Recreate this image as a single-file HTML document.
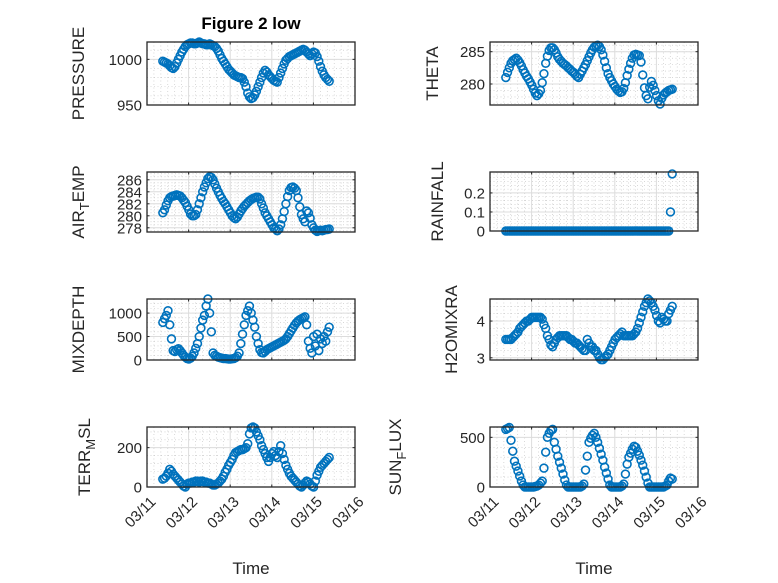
<!DOCTYPE html>
<html><head><meta charset="utf-8"><style>
body{margin:0;background:#fff}
svg{display:block;font-family:"Liberation Sans",sans-serif}
</style></head><body>
<svg id="fig" width="778" height="583" viewBox="0 0 778 583"></svg>
<script>
// Shared categories: hourly samples starting at day 0.38 after 03/11
const startDay = 0.38;
const nPts = 97;
const xTickLabels = ["03/11","03/12","03/13","03/14","03/15","03/16"];

const pressure = [998,997,996,995,993,991,990,
992,996,1000,1004,1008,1011,1014,1016,
1017,1018,1018,1017,1017,1018,1019,1018,1017,1017,1016,1016,1017,1016,1015,1014,
1012,1009,1005,1001,998,995,992,989,987,985,983,982,981,980,
980,979,975,970,963,959,957,958,
961,965,970,975,980,985,988,986,
983,981,979,977,976,975,980,985,
990,995,999,1001,1003,1004,1005,1006,1007,1008,1009,1010,
1011,1010,1008,1006,1004,1006,1008,1007,
1003,998,992,987,983,980,978,976];
const theta = [281,281.8,282.5,283.2,283.6,283.8,284,283.7,283.3,
282.8,282.2,281.7,281.2,280.8,280.3,279.8,279.2,
278.6,278.2,278.5,279,280.2,281.6,283.2,284.3,
285.2,285.6,285.6,285.3,284.8,284.2,283.8,283.5,
283.2,283,282.8,282.5,282.3,282,281.8,281.5,281.2,281,281.5,282,
282.5,283,283.6,284.2,284.8,285.3,285.7,285.9,286,285.8,285.3,284.5,
283.5,282.5,281.6,281,280.5,280,279.6,279.2,278.9,278.7,278.8,279.3,
280.2,281.3,282.3,283.2,284,284.5,284.6,284.5,284.4,283.4,281.4,279.4,
278.2,277.7,279.5,280.4,279.8,279,278.2,277.4,
276.9,277.8,278.3,278.6,278.8,279,279.1,279.2];
const airTemp = [280.5,281,281.8,282.5,283,
283.2,283.3,283.4,283.5,283.4,283.3,
283,282.6,282.2,281.6,281,280.3,280,280,
280.2,281,282,283,
284,284.8,285.5,286.2,286.5,286.4,
286,285.3,284.6,284,283.4,282.9,282.4,282,
281.5,281,280.5,280,279.7,279.5,279.8,280.3,
280.8,281.2,281.6,281.9,282.2,282.5,282.7,282.9,283,283.1,283.1,282.8,
282,281.3,280.5,280,279.5,279,278.5,278,277.8,277.5,277.8,278.5,
279.5,280.7,282,283.2,284.2,284.7,284.8,284.6,284.2,283,
281.5,280.2,279.5,279,280.8,280.5,279.6,278.5,278,277.6,
277.4,277.5,277.6,277.5,277.6,277.7,277.7,277.8];
const rainfall = [0,0,0,0,0,0,0,0,0,0,0,0,0,0,0,0,0,0,0,0,0,0,0,0,0,0,0,0,0,0,0,0,0,0,0,0,0,0,0,0,0,0,0,0,0,0,0,0,0,0,0,0,0,0,0,0,0,0,0,0,0,0,0,0,0,0,0,0,0,0,0,0,0,0,0,0,0,0,0,0,0,0,0,0,0,0,0,0,0,0,0,0,0,0,0,0.1,0.3];
const mixDepth = [800,880,950,1050,750,450,
200,180,220,240,200,150,100,
60,30,20,40,80,150,
250,350,500,680,850,950,1150,1300,
1000,600,150,100,
80,60,50,40,30,30,25,20,20,25,30,50,
80,150,350,550,750,950,1050,1150,1000,850,700,500,
350,220,160,150,180,220,
240,260,280,300,320,340,360,380,400,420,450,500,
560,620,680,740,790,830,860,880,900,920,
750,400,250,150,500,300,550,200,450,350,500,400,600,700];
const h2oMix = [3.5,3.5,3.5,3.5,3.55,3.6,
3.65,3.7,3.8,3.85,3.9,3.95,4.0,
4.0,4.05,4.1,4.1,4.1,4.1,4.1,4.1,4.05,
3.9,3.8,3.6,3.5,3.35,3.3,
3.4,3.5,3.55,3.6,3.6,3.6,3.6,3.6,3.55,3.5,3.5,3.45,3.4,3.4,3.35,
3.3,3.25,3.2,3.2,3.5,3.4,3.3,3.3,3.2,3.2,3.1,3.0,
2.95,2.95,3.0,3.05,3.1,3.2,3.3,3.4,
3.5,3.55,3.6,3.65,3.7,3.6,3.6,3.6,3.6,3.6,3.6,3.65,3.7,3.8,
3.95,4.1,4.25,4.4,4.5,4.6,4.55,4.5,4.4,4.3,
4.15,4.0,3.95,4.1,4.05,4.0,4.0,4.2,4.3,4.4];
const terrMsl = [40,45,55,70,90,80,65,55,45,
35,25,15,5,0,15,20,20,
25,25,30,30,25,30,30,25,25,20,20,15,10,10,15,20,
30,40,55,75,90,110,125,140,160,175,180,185,
190,190,195,200,220,270,300,305,
300,280,260,240,210,190,170,150,130,150,
170,180,160,150,180,210,170,140,110,90,
70,55,45,35,25,15,5,0,10,20,
30,25,15,5,0,30,
60,80,100,110,120,130,140,150];
const sunFlux = [580,590,600,470,360,
260,210,160,110,60,20,0,0,
0,0,0,0,5,10,20,40,60,
190,350,500,540,570,580,
450,380,310,250,190,130,70,20,0,
0,0,0,0,0,0,0,10,30,
170,310,450,490,520,540,
500,450,390,330,270,200,140,80,20,0,
0,0,0,0,0,10,30,
130,230,300,340,380,410,
400,360,320,270,220,160,100,40,0,
0,0,0,0,0,0,0,0,10,
20,60,90,80];

const pressureTicks=[950,1000], thetaTicks=[280,285], airTicks=[278,280,282,284,286],
rainTicks=[0,0.1,0.2], mixTicks=[0,500,1000], h2oTicks=[3,4], terrTicks=[0,200], sunTicks=[0,500];

const NS="http://www.w3.org/2000/svg";
const svg=document.getElementById('fig');
function el(tag,attrs,parent){const e=document.createElementNS(NS,tag);for(const k in attrs)e.setAttribute(k,attrs[k]);(parent||svg).appendChild(e);return e;}

const panels=[
 {name:'pressure',data:pressure,ticks:pressureTicks,ymin:950,ymax:1019,minor:10,x:147,y:42,h:63,label:['PRESSURE'],off:63},
 {name:'theta',data:theta,ticks:thetaTicks,ymin:276.75,ymax:286.5,minor:1,x:490,y:42,h:63,label:['THETA'],off:52},
 {name:'air-temp',data:airTemp,ticks:airTicks,ymin:277.3,ymax:287.3,minor:0.5,x:147,y:172,h:60,label:['AIR','T','EMP'],off:63},
 {name:'rainfall',data:rainfall,ticks:rainTicks,ymin:0,ymax:0.31,minor:0.02,x:490,y:172,h:59,label:['RAINFALL'],off:47},
 {name:'mixdepth',data:mixDepth,ticks:mixTicks,ymin:0,ymax:1300,minor:100,x:147,y:299,h:61,label:['MIXDEPTH'],off:63},
 {name:'h2omixra',data:h2oMix,ticks:h2oTicks,ymin:2.94,ymax:4.6,minor:0.2,x:490,y:299,h:61,label:['H2OMIXRA'],off:33},
 {name:'terr-msl',data:terrMsl,ticks:terrTicks,ymin:0,ymax:305,minor:40,x:147,y:427,h:60,label:['TERR','M','SL'],off:57,bottom:true},
 {name:'sun-flux',data:sunFlux,ticks:sunTicks,ymin:0,ymax:604,minor:100,x:490,y:427,h:60,label:['SUN','F','LUX'],off:89,bottom:true}
];
const W=208, nDays=5;

panels.forEach(p=>{
  const g=el('g',{});
  
  
  const xs=d=>p.x+d/nDays*W;
  const ys=v=>p.y+p.h-(v-p.ymin)/(p.ymax-p.ymin)*p.h;
  for(let d=0;d<=nDays*6;d++){ if(d%6===0)continue;
    el('line',{x1:xs(d/6),x2:xs(d/6),y1:p.y,y2:p.y+p.h,stroke:'#c0c0c0','stroke-width':0.6,'stroke-dasharray':'1 2.5'},g);}
  const m0=Math.ceil(p.ymin/p.minor-1e-9);
  for(let k=m0;k*p.minor<=p.ymax+1e-9;k++){const v=k*p.minor;
    el('line',{x1:p.x,x2:p.x+W,y1:ys(v),y2:ys(v),stroke:'#c0c0c0','stroke-width':0.6,'stroke-dasharray':'1 2.5'},g);}
  for(let d=0;d<=nDays;d++) el('line',{x1:xs(d),x2:xs(d),y1:p.y,y2:p.y+p.h,stroke:'#dcdcdc','stroke-width':1},g);
  p.ticks.forEach(v=>el('line',{x1:p.x,x2:p.x+W,y1:ys(v),y2:ys(v),stroke:'#dcdcdc','stroke-width':1},g));
  for(let d=0;d<=nDays;d++){el('line',{x1:xs(d),x2:xs(d),y1:p.y+p.h,y2:p.y+p.h-2.5,stroke:'#262626'},g);
    el('line',{x1:xs(d),x2:xs(d),y1:p.y,y2:p.y+2.5,stroke:'#262626'},g);}
  p.ticks.forEach(v=>{
    el('line',{x1:p.x,x2:p.x+2.5,y1:ys(v),y2:ys(v),stroke:'#262626'},g);
    el('line',{x1:p.x+W,x2:p.x+W-2.5,y1:ys(v),y2:ys(v),stroke:'#262626'},g);
    const t=el('text',{x:p.x-5,y:ys(v)+5.5,'text-anchor':'end','font-size':15,fill:'#262626'},g);
    t.textContent=v;
    
    
  });
  p.data.forEach((v,i)=>{
    const c=el('circle',{cx:xs(startDay+i/24),cy:ys(v),r:3.9,fill:'none',stroke:'#0072BD','stroke-width':1.6},g);
    
    
  });
  el('rect',{x:p.x,y:p.y,width:W,height:p.h,fill:'none',stroke:'#262626','stroke-width':1.3},g);
  const lx=p.x-p.off;
  const cy=p.y+p.h/2;
  const lab=el('text',{x:lx,y:cy,'text-anchor':'middle','font-size':17,fill:'#262626',transform:`rotate(-90 ${lx} ${cy})`},g);
  
  
  if(p.label.length===1) lab.textContent=p.label[0];
  else{
    const a=el('tspan',{},lab);a.textContent=p.label[0];
    const b=el('tspan',{'font-size':13,dy:5},lab);b.textContent=p.label[1];
    const c=el('tspan',{dy:-5},lab);c.textContent=p.label[2];
  }
  if(p.bottom){
    xTickLabels.forEach((s,d)=>{
      const tx=xs(d)+4, ty=p.y+p.h+10;
      const t=el('text',{x:tx,y:ty,'text-anchor':'end','font-size':15,fill:'#262626',transform:`rotate(-45 ${tx} ${ty})`,dy:8},g);
      t.textContent=s;
      
      
    });
    const xt=el('text',{x:p.x+W/2,y:574,'text-anchor':'middle','font-size':17,fill:'#262626'},g);
    xt.textContent='Time';
    
    
  }
});
const title=el('text',{x:251,y:29,'text-anchor':'middle','font-size':17,'font-weight':'bold',fill:'#000'});
title.textContent='Figure 2 low';


</script>
</body></html>
